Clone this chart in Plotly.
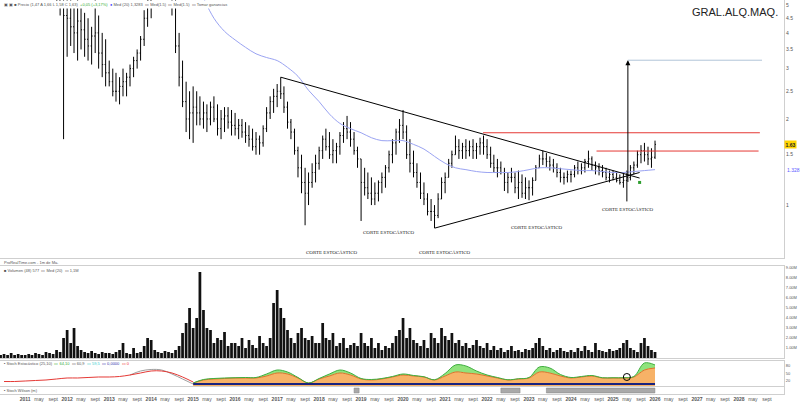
import numpy as np
import pandas as pd
import plotly.graph_objects as go

# ---------------- DATA ----------------
months = pd.date_range("2010-06-01", "2026-01-01", freq="MS")

price_open = [
    8.5, 8.2, 8.0, 7.8, 7.6, 7.8, 7.4,
    7.2, 7.2, 7.0, 6.8, 6.7, 6.5, 6.2, 6.0, 5.8, 5.6, 5.2, 5.4,
    4.6, 4.5, 4.2, 4.0, 4.4, 4.1, 3.8, 3.6, 3.9, 4.0, 3.4, 3.1,
    2.9, 2.7, 2.5, 2.5, 2.6, 2.7, 2.8, 3.0, 3.2, 3.4, 3.8, 4.5,
    5.2, 5.9, 6.5, 6.6, 6.2, 6.0, 5.8, 5.0, 3.6, 2.8, 2.3, 2.0,
    2.1, 2.2, 2.1, 2.0, 2.1, 2.0, 2.2, 2.0, 1.85, 2.0, 2.05, 1.95,
    1.9, 1.85, 1.9, 1.8, 1.75, 1.7, 1.6, 1.7, 1.65, 1.85, 2.1, 2.3,
    2.4, 2.5, 2.45, 2.2, 1.95, 1.8, 1.55, 1.35, 1.2, 1.1, 1.2, 1.3,
    1.4, 1.55, 1.7, 1.6, 1.5, 1.55, 1.6, 1.75, 1.85, 1.8, 1.7, 1.55,
    1.45, 1.2, 1.15, 1.1, 1.05, 1.1, 1.2, 1.25, 1.35, 1.5, 1.65, 1.8,
    1.9, 1.8, 1.5, 1.4, 1.3, 1.2, 1.1, 1.05, 0.95, 0.95, 0.92, 1.05,
    1.2, 1.25, 1.4, 1.5, 1.6, 1.55, 1.6, 1.55, 1.6, 1.55, 1.6, 1.65,
    1.6, 1.5, 1.4, 1.35, 1.35, 1.3, 1.2, 1.25, 1.25, 1.15, 1.2, 1.1,
    1.15, 1.15, 1.22, 1.35, 1.45, 1.45, 1.42, 1.38, 1.35, 1.3, 1.25, 1.25,
    1.28, 1.28, 1.35, 1.32, 1.35, 1.42, 1.45, 1.38, 1.35, 1.32, 1.3, 1.25,
    1.28, 1.25, 1.22, 1.2, 1.22, 1.25, 1.35, 1.38, 1.5, 1.55, 1.5, 1.45,
    1.47,
]
price_high = [
    9.5, 9.2, 9.0, 8.8, 9.0, 8.6, 8.4,
    8.5, 8.2, 8.0, 7.8, 7.6, 7.5, 7.2, 7.0, 6.5, 6.2, 6.0, 6.0,
    6.0, 5.8, 5.0, 5.6, 4.9, 4.7, 4.5, 4.2, 5.3, 4.6, 4.0, 3.8,
    3.2, 3.0, 2.9, 2.8, 3.0, 2.9, 3.1, 3.3, 3.5, 3.9, 4.8, 5.6,
    6.2, 6.8, 7.2, 7.0, 6.8, 6.6, 6.2, 5.8, 4.0, 3.2, 2.7, 2.5,
    2.6, 2.5, 2.4, 2.3, 2.25, 2.3, 2.4, 2.25, 2.15, 2.2, 2.2, 2.15,
    2.1, 2.0, 2.0, 1.95, 1.9, 1.85, 1.8, 1.75, 1.9, 2.2, 2.4, 2.55,
    2.65, 2.8, 2.6, 2.3, 2.0, 1.85, 1.6, 1.5, 1.35, 1.3, 1.4, 1.5,
    1.6, 1.75, 1.85, 1.8, 1.7, 1.65, 1.8, 1.95, 2.05, 1.95, 1.8, 1.6,
    1.45, 1.35, 1.3, 1.25, 1.2, 1.22, 1.3, 1.38, 1.55, 1.7, 1.85, 2.0,
    2.15, 1.9, 1.7, 1.55, 1.4, 1.3, 1.2, 1.1, 1.05, 1.0, 1.1, 1.25,
    1.3, 1.45, 1.55, 1.75, 1.7, 1.65, 1.7, 1.68, 1.7, 1.65, 1.72, 1.75,
    1.7, 1.6, 1.5, 1.45, 1.42, 1.35, 1.3, 1.35, 1.3, 1.32, 1.28, 1.25,
    1.22, 1.25, 1.38, 1.5, 1.55, 1.52, 1.48, 1.45, 1.4, 1.35, 1.3, 1.32,
    1.32, 1.38, 1.42, 1.4, 1.45, 1.55, 1.48, 1.42, 1.4, 1.38, 1.35, 1.32,
    1.32, 1.3, 1.28, 1.3, 1.32, 1.38, 1.42, 1.55, 1.62, 1.65, 1.6, 1.58,
    1.68,
]
price_low = [
    7.8, 7.5, 7.4, 7.2, 7.3, 7.0, 6.8,
    7.0, 6.8, 6.6, 6.5, 6.3, 6.0, 5.8, 5.5, 5.4, 5.0, 4.6, 1.7,
    3.3, 3.6, 3.4, 3.2, 3.5, 3.3, 3.2, 3.1, 3.4, 3.0, 2.8, 2.6,
    2.6, 2.4, 2.3, 2.25, 2.4, 2.4, 2.6, 2.8, 3.0, 3.2, 3.6, 4.2,
    4.5, 5.4, 5.8, 5.6, 5.5, 5.3, 4.6, 3.4, 2.6, 2.2, 1.8, 1.7,
    1.65, 1.9, 1.9, 1.85, 1.8, 1.9, 1.95, 1.75, 1.7, 1.8, 1.85, 1.75,
    1.75, 1.7, 1.72, 1.65, 1.6, 1.55, 1.5, 1.5, 1.6, 1.8, 2.0, 2.1,
    2.2, 2.35, 2.1, 1.85, 1.7, 1.5, 1.25, 1.1, 0.85, 1.0, 1.15, 1.2,
    1.33, 1.45, 1.55, 1.45, 1.4, 1.4, 1.5, 1.65, 1.7, 1.6, 1.5, 1.35,
    0.88, 1.08, 1.05, 1.0, 1.0, 1.03, 1.1, 1.15, 1.3, 1.4, 1.5, 1.65,
    1.7, 1.45, 1.3, 1.25, 1.15, 1.05, 1.0, 0.92, 0.88, 0.83, 0.9, 1.05,
    1.1, 1.25, 1.35, 1.5, 1.45, 1.45, 1.45, 1.48, 1.45, 1.45, 1.5, 1.5,
    1.45, 1.35, 1.3, 1.25, 1.28, 1.12, 1.1, 1.2, 1.1, 1.05, 1.06, 1.05,
    1.04, 1.08, 1.22, 1.35, 1.38, 1.36, 1.32, 1.3, 1.25, 1.2, 1.18, 1.2,
    1.2, 1.25, 1.28, 1.28, 1.3, 1.35, 1.32, 1.28, 1.27, 1.25, 1.22, 1.2,
    1.22, 1.2, 1.18, 1.15, 1.03, 1.22, 1.28, 1.35, 1.4, 1.42, 1.38, 1.35,
    1.45,
]
price_close = [
    8.2, 8.0, 7.8, 7.6, 7.8, 7.4, 7.2,
    7.2, 7.0, 6.8, 6.7, 6.5, 6.2, 6.0, 5.8, 5.6, 5.2, 5.4, 4.6,
    4.5, 4.2, 4.0, 4.4, 4.1, 3.8, 3.6, 3.9, 4.0, 3.4, 3.1, 2.9,
    2.7, 2.5, 2.5, 2.6, 2.7, 2.8, 3.0, 3.2, 3.4, 3.8, 4.5, 5.2,
    5.9, 6.5, 6.6, 6.2, 6.0, 5.8, 5.0, 3.6, 2.8, 2.3, 2.0, 2.1,
    2.2, 2.1, 2.0, 2.1, 2.0, 2.2, 2.0, 1.85, 2.0, 2.05, 1.95, 1.9,
    1.85, 1.9, 1.8, 1.75, 1.7, 1.6, 1.7, 1.65, 1.85, 2.1, 2.3, 2.4,
    2.5, 2.45, 2.2, 1.95, 1.8, 1.55, 1.35, 1.2, 1.1, 1.2, 1.3, 1.4,
    1.55, 1.7, 1.6, 1.5, 1.55, 1.6, 1.75, 1.85, 1.8, 1.7, 1.55, 1.45,
    1.2, 1.15, 1.1, 1.05, 1.1, 1.2, 1.25, 1.35, 1.5, 1.65, 1.8, 1.9,
    1.8, 1.5, 1.4, 1.3, 1.2, 1.1, 1.05, 0.95, 0.95, 0.92, 1.05, 1.2,
    1.25, 1.4, 1.5, 1.6, 1.55, 1.6, 1.55, 1.6, 1.55, 1.6, 1.65, 1.6,
    1.5, 1.4, 1.35, 1.35, 1.3, 1.2, 1.25, 1.25, 1.15, 1.2, 1.1, 1.15,
    1.15, 1.22, 1.35, 1.45, 1.45, 1.42, 1.38, 1.35, 1.3, 1.25, 1.25, 1.28,
    1.28, 1.35, 1.32, 1.35, 1.42, 1.45, 1.38, 1.35, 1.32, 1.3, 1.25, 1.28,
    1.25, 1.22, 1.2, 1.22, 1.25, 1.35, 1.38, 1.5, 1.55, 1.5, 1.45, 1.47,
    1.63,
]
volume_m = [
    0.3, 0.4, 0.3, 0.5, 0.3, 0.4, 0.3,
    0.3, 0.4, 0.3, 0.5, 0.4, 0.3, 0.6, 0.5, 0.4, 0.8, 0.6, 2.0,
    2.8, 1.5, 3.0, 1.2, 0.8, 0.6, 0.5, 0.7, 0.5, 0.4, 0.6, 0.5,
    0.5, 0.4, 0.6, 0.8, 1.5, 0.5, 0.4, 1.0, 0.5, 0.6, 1.2, 2.0,
    1.8, 0.8, 0.6, 0.5, 0.7, 0.6, 0.5, 0.8, 1.2, 2.5, 3.5, 5.0,
    3.0, 4.0, 8.6, 4.8, 3.0, 2.8, 1.5, 2.0, 1.8, 2.6, 1.2, 1.5,
    1.5, 1.2, 2.0, 1.0, 1.8, 1.3, 1.0, 2.2, 1.5, 1.2, 2.0, 5.5,
    6.8, 5.0, 4.0, 2.8, 2.0, 1.5, 2.5, 3.0, 2.0, 1.8, 2.2, 1.5,
    1.5, 3.5, 2.0, 1.8, 2.5, 1.2, 1.5, 2.0, 1.0, 1.3, 1.5, 1.2,
    2.5, 1.5, 1.2, 2.0, 1.0, 1.5, 0.8, 1.2, 1.0, 1.5, 2.2, 2.8,
    4.0, 2.0, 3.0, 1.8, 1.5, 1.2, 1.8, 1.0, 2.5, 2.0, 1.5, 3.0,
    2.2, 1.8, 2.5, 1.5, 1.8, 1.2, 1.5, 1.0, 1.3, 1.8, 1.2, 1.0,
    1.5, 0.8, 1.2, 0.8, 1.0, 0.6, 0.8, 1.2, 0.7, 0.8, 0.6, 0.9,
    0.8, 1.0, 1.5, 2.0, 1.2, 0.8, 1.0, 0.6, 0.8, 1.0, 0.7, 0.6,
    0.8, 0.6, 1.0, 0.7, 1.2, 0.8, 0.6, 1.5, 0.8, 0.7, 0.6, 0.9,
    0.7, 0.8, 1.0, 1.5, 1.8, 1.0, 0.8, 0.6, 1.5, 2.0, 1.2, 0.8,
    0.6,
]

# moving average (quarterly)
ma_dates = pd.date_range("2015-04-01", "2026-01-01", freq="QS-JAN")
ma_values = [5.3, 4.5, 4.05,
             3.78, 3.56, 3.38, 3.28,
             3.2, 3.03, 2.82, 2.52,
             2.3, 2.08, 1.93, 1.85,
             1.79, 1.72, 1.68, 1.68,
             1.68, 1.63, 1.57, 1.48,
             1.4, 1.35, 1.33, 1.31,
             1.3, 1.3, 1.3, 1.31,
             1.33, 1.35, 1.35, 1.34,
             1.33, 1.32, 1.32, 1.31,
             1.3, 1.3, 1.31, 1.32,
             1.33]

# stochastic-type indicator panel (quarterly)
stoch_early_dates = pd.date_range("2010-07-01", "2015-01-01", freq="QS-JAN")
stoch_red = [18, 18, 20, 22, 24, 28, 32, 32, 34, 36, 36, 38, 44, 52, 60, 60, 52, 36, 16]
stoch_gray_dates = pd.date_range("2013-07-01", "2015-01-01", freq="QS-JAN")
stoch_gray = [44, 60, 66, 64, 48, 28, 8]
stoch_dates = pd.date_range("2015-01-01", "2026-01-01", freq="QS-JAN")
stoch_orange = [12, 24, 28, 30, 32, 32, 32, 40, 52, 48, 32, 12, 28, 40, 52, 44,
                28, 24, 28, 36, 44, 40, 36, 24, 40, 56, 52, 48, 40, 32, 24, 28,
                32, 56, 52, 40, 32, 36, 40, 32, 32, 32, 36, 64, 72]
stoch_green = [12, 26, 30, 32, 33, 34, 34, 48, 64, 56, 34, 12, 30, 48, 64, 52,
               30, 26, 30, 38, 48, 42, 37, 25, 50, 84, 80, 60, 44, 34, 25, 29,
               34, 76, 72, 46, 34, 38, 42, 33, 33, 33, 38, 92, 84]
stoch_base = [8] * len(stoch_dates)

# drawn objects
tri_upper_dates = ["2017-02-01", "2025-08-20"]
tri_upper_prices = [2.80, 1.243]
tri_lower_dates = ["2020-10-04", "2025-08-20"]
tri_lower_prices = [0.831, 1.30]
res1_dates = ["2021-11-27", "2028-07-01"]
res1_prices = [1.79, 1.79]
res2_dates = ["2024-08-10", "2028-06-20"]
res2_prices = [1.545, 1.545]
target_dates = ["2025-05-10", "2028-07-20"]
target_prices = [3.21, 3.21]
arrow_date = "2025-05-10"
arrow_from, arrow_to = 1.19, 3.21
signal_date, signal_price = "2025-08-20", 1.2

corte_dates = ["2018-04-20", "2019-09-01", "2021-01-01", "2023-03-10", "2025-05-10"]
corte_prices = [0.685, 0.805, 0.685, 0.838, 0.968]

event_starts = ["2018-11-01", "2022-05-01", "2023-06-01"]
event_ends = ["2018-12-15", "2022-10-15", "2025-12-31"]

price_ticks = [1, 1.5, 2, 2.5, 3, 3.5, 4, 4.5, 5]
vol_ticks = [1, 2, 3, 4, 5, 6, 7, 8, 9]

# ---------------- FIGURE ----------------
fig = go.Figure()

fig.add_trace(go.Ohlc(x=months, open=price_open, high=price_high, low=price_low, close=price_close,
                      increasing=dict(line=dict(color="black", width=1)),
                      decreasing=dict(line=dict(color="black", width=1)),
                      tickwidth=0.3, xaxis="x", yaxis="y"))

fig.add_trace(go.Scatter(x=ma_dates, y=ma_values, mode="lines", line=dict(color="#9aa3f2", width=1, shape="spline"),
                         xaxis="x", yaxis="y"))

for d, p, c, w in [(tri_upper_dates, tri_upper_prices, "black", 1),
                   (tri_lower_dates, tri_lower_prices, "black", 1),
                   (res1_dates, res1_prices, "#e53935", 1),
                   (res2_dates, res2_prices, "#e53935", 1),
                   (target_dates, target_prices, "#b0c4d8", 1)]:
    fig.add_trace(go.Scatter(x=d, y=p, mode="lines", line=dict(color=c, width=w), xaxis="x", yaxis="y"))

fig.add_trace(go.Scatter(x=[signal_date], y=[signal_price], mode="markers",
                         marker=dict(color="#2e9e2e", size=3, symbol="square"), xaxis="x", yaxis="y"))

# volume
fig.add_trace(go.Bar(x=months, y=volume_m, marker=dict(color="#111111", line=dict(width=0)),
                     xaxis="x2", yaxis="y2"))

# indicator
fig.add_trace(go.Scatter(x=stoch_dates, y=stoch_orange, mode="lines", fill="tozeroy",
                         fillcolor="#f7b267", line=dict(color="#e0702a", width=1, shape="spline"),
                         xaxis="x3", yaxis="y3"))
fig.add_trace(go.Scatter(x=stoch_dates, y=stoch_green, mode="lines", fill="tonexty",
                         fillcolor="#8fe37c", line=dict(color="#3fae3f", width=1, shape="spline"),
                         xaxis="x3", yaxis="y3"))
fig.add_trace(go.Scatter(x=stoch_dates, y=stoch_base, mode="lines", line=dict(color="#1a237e", width=2),
                         xaxis="x3", yaxis="y3"))
fig.add_trace(go.Scatter(x=stoch_gray_dates, y=stoch_gray, mode="lines", line=dict(color="#9e9e9e", width=1, shape="spline"),
                         xaxis="x3", yaxis="y3"))
fig.add_trace(go.Scatter(x=stoch_early_dates, y=stoch_red, mode="lines", line=dict(color="#e53935", width=1, shape="spline"),
                         xaxis="x3", yaxis="y3"))
fig.add_trace(go.Scatter(x=["2025-05-01"], y=[36], mode="markers",
                         marker=dict(symbol="circle-open", size=7, color="black", line=dict(width=1)),
                         xaxis="x3", yaxis="y3"))

# row 4 (event bar) placeholder trace
fig.add_trace(go.Scatter(x=[months[0]], y=[-1], mode="markers", marker=dict(size=1, color="white"),
                         xaxis="x4", yaxis="y4"))

# ---------------- LAYOUT ----------------
x_range = ["2010-05-27", "2029-01-27"]
tickvals, ticktext = [], []
for yr in range(2011, 2029):
    tickvals += [f"{yr}-01-01", f"{yr}-05-01", f"{yr}-09-01"]
    ticktext += [f"<b>{yr}</b>", "may", "sept"]

xbase = dict(type="date", range=x_range, showgrid=False, zeroline=False, showline=True,
             linecolor="#cfcfcf", linewidth=1, mirror=True, ticks="", showticklabels=False,
             domain=[0, 1], automargin=False)
ybase = dict(showgrid=False, zeroline=False, showline=True, linecolor="#cfcfcf", linewidth=1,
             mirror=True, ticks="", side="right", automargin=False,
             tickfont=dict(size=5, color="#555", family="Liberation Sans"))

fig.update_layout(
    width=800, height=402,
    margin=dict(l=0, r=16, t=0, b=8, autoexpand=False),
    paper_bgcolor="white", plot_bgcolor="white",
    showlegend=False, bargap=0.15,
    xaxis=dict(xbase, anchor="y", rangeslider=dict(visible=False)),
    xaxis2=dict(xbase, anchor="y2", matches="x"),
    xaxis3=dict(xbase, anchor="y3", matches="x"),
    xaxis4=dict(xbase, anchor="y4", matches="x", showticklabels=True, tickvals=tickvals,
                ticktext=ticktext, tickfont=dict(size=5, color="#555", family="Liberation Sans"),
                tickangle=0),
    yaxis=dict(ybase, type="log", range=[-0.185, 0.717], domain=[0.3452, 1.0], anchor="x",
               tickvals=price_ticks, ticktext=[str(v) for v in price_ticks]),
    yaxis2=dict(ybase, range=[0, 9.2], domain=[0.0914, 0.3249], anchor="x2",
                tickvals=vol_ticks, ticktext=[f"{v}.00M" for v in vol_ticks],
                tickfont=dict(size=4, color="#555", family="Liberation Sans")),
    yaxis3=dict(ybase, range=[0, 100], domain=[0.0203, 0.0838], anchor="x3",
                tickvals=[20, 50, 80], ticktext=["20", "50", "80"],
                tickfont=dict(size=4, color="#555", family="Liberation Sans")),
    yaxis4=dict(ybase, range=[0, 1], domain=[0.0, 0.0178], anchor="x4", showticklabels=False),
)

# event blocks
for s, e in zip(event_starts, event_ends):
    fig.add_shape(type="rect", xref="x4", yref="y4", x0=s, x1=e, y0=0.15, y1=0.85,
                  fillcolor="#a9a9a9", line=dict(color="#808080", width=0.5))

# arrow
fig.add_annotation(x=arrow_date, y=np.log10(arrow_to), ax=arrow_date, ay=np.log10(arrow_from),
                   xref="x", yref="y", axref="x", ayref="y", text="", showarrow=True,
                   arrowhead=2, arrowsize=1, arrowwidth=1, arrowcolor="black")

for d, p in zip(corte_dates, corte_prices):
    fig.add_annotation(x=d, y=np.log10(p), xref="x", yref="y", text="CORTE ESTOCÁSTICO",
                       showarrow=False, font=dict(size=5, color="#222", family="Liberation Serif"))

# price labels on the right
fig.add_annotation(x=1.0, y=np.log10(price_close[-1]), xref="paper", yref="y", xanchor="left",
                   text=f"<b>{price_close[-1]:.2f}</b>", showarrow=False, bgcolor="#ffd400",
                   font=dict(size=5, color="#222", family="Liberation Sans"), borderpad=0.5)
fig.add_annotation(x=1.0, y=np.log10(1.328), xref="paper", yref="y", xanchor="left", xshift=1,
                   text="1.328", showarrow=False, font=dict(size=5, color="#5c5cff", family="Liberation Sans"))

# title
fig.add_annotation(x=0.995, y=0.99, xref="paper", yref="paper", xanchor="right", yanchor="top",
                   text="GRAL.ALQ.MAQ.", showarrow=False, bgcolor="white",
                   font=dict(size=11, color="#222", family="Liberation Sans"))

# header texts
small = dict(size=4, color="#555", family="Liberation Sans")
fig.add_annotation(x=0.002, y=0.999, xref="paper", yref="paper", xanchor="left", yanchor="top",
                   text="▣ ▣ ■ Precio (1,47 A 1,66 L 1,58 C 1,63)  <span style='color:#3a3'>+0,05 (+3,17%)</span>  "
                        "<span style='color:#33f'>●</span> Med (20) 1,3283  ▭ Med(1.5)  ▭ Med(1.5)  ▭ Tomar ganancias",
                   showarrow=False, font=small, bgcolor="white")
fig.add_annotation(x=0.002, y=1 - 262 / 394, xref="paper", yref="paper", xanchor="left", yanchor="middle",
                   text="ProRealTime.com - 1m de Ma.", showarrow=False, font=small)
fig.add_annotation(x=0.002, y=1 - 270 / 394, xref="paper", yref="paper", xanchor="left", yanchor="middle",
                   text="■ Volumen (48) 577  ▭ Med (20)  ▭ 1,1M", showarrow=False, font=small)
fig.add_annotation(x=0.002, y=1 - 363.5 / 394, xref="paper", yref="paper", xanchor="left", yanchor="middle",
                   text="▪ Stoch Estocástico (25,10)  <span style='color:#3a3'>▭ 64,10</span>  ▭ 60,9  "
                        "<span style='color:#3cc'>▭ 59,5</span>  <span style='color:#33a'>▭ 0,0000</span>  "
                        "<span style='color:#e33'>▭ 0</span>",
                   showarrow=False, font=small)
fig.add_annotation(x=0.002, y=1 - 390 / 394, xref="paper", yref="paper", xanchor="left", yanchor="middle",
                   text="▪ Stoch Wilson (m)", showarrow=False, font=small)

fig.write_html("out.html", config={"displayModeBar": False},
               post_script="document.body.style.margin='0';document.body.style.padding='0';"
                           "document.body.style.overflow='hidden';")
